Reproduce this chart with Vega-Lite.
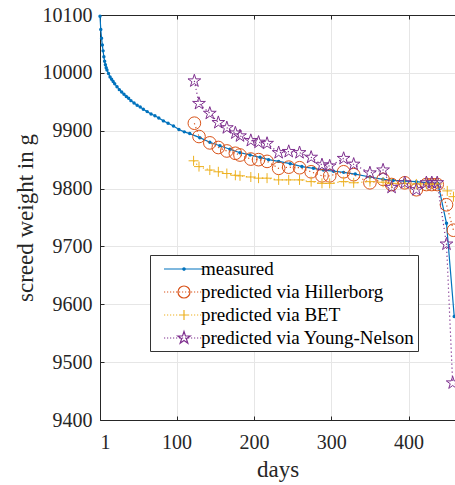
{
  "$schema": "https://vega.github.io/schema/vega-lite/v6.json",
  "width": 355,
  "height": 405,
  "autosize": {"type": "none"},
  "padding": {"left": 100, "top": 15, "right": 0, "bottom": 65},
  "background": "white",
  "config": {
    "font": "Liberation Serif",
    "view": {"stroke": null},
    "axis": {
      "labelFont": "Liberation Serif",
      "titleFont": "Liberation Serif",
      "labelFontSize": 20,
      "titleFontSize": 23,
      "titleFontWeight": "normal",
      "labelColor": "#262626",
      "titleColor": "#262626",
      "domainColor": "#262626",
      "tickColor": "#262626",
      "gridColor": "#e6e6e6",
      "domainWidth": 1,
      "tickWidth": 1,
      "tickSize": -4
    }
  },
  "datasets": {
    "weights": [
      {"series": "measured", "day": 1, "g": 10098},
      {"series": "measured", "day": 2, "g": 10075},
      {"series": "measured", "day": 3, "g": 10060},
      {"series": "measured", "day": 4, "g": 10048},
      {"series": "measured", "day": 5, "g": 10038},
      {"series": "measured", "day": 6, "g": 10028},
      {"series": "measured", "day": 7, "g": 10020},
      {"series": "measured", "day": 8, "g": 10014},
      {"series": "measured", "day": 9, "g": 10009},
      {"series": "measured", "day": 10, "g": 10005},
      {"series": "measured", "day": 12, "g": 9999},
      {"series": "measured", "day": 14, "g": 9993},
      {"series": "measured", "day": 16, "g": 9989},
      {"series": "measured", "day": 18, "g": 9985},
      {"series": "measured", "day": 20, "g": 9981},
      {"series": "measured", "day": 23, "g": 9976},
      {"series": "measured", "day": 26, "g": 9971},
      {"series": "measured", "day": 29, "g": 9967},
      {"series": "measured", "day": 32, "g": 9963},
      {"series": "measured", "day": 35, "g": 9959},
      {"series": "measured", "day": 38, "g": 9956},
      {"series": "measured", "day": 41, "g": 9952},
      {"series": "measured", "day": 45, "g": 9948},
      {"series": "measured", "day": 49, "g": 9944},
      {"series": "measured", "day": 53, "g": 9941},
      {"series": "measured", "day": 57, "g": 9937},
      {"series": "measured", "day": 62, "g": 9933},
      {"series": "measured", "day": 67, "g": 9929},
      {"series": "measured", "day": 72, "g": 9926},
      {"series": "measured", "day": 77, "g": 9922},
      {"series": "measured", "day": 83, "g": 9917},
      {"series": "measured", "day": 89, "g": 9913},
      {"series": "measured", "day": 96, "g": 9908},
      {"series": "measured", "day": 103, "g": 9902},
      {"series": "measured", "day": 110, "g": 9898},
      {"series": "measured", "day": 117, "g": 9895},
      {"series": "measured", "day": 130, "g": 9888},
      {"series": "measured", "day": 143, "g": 9880},
      {"series": "measured", "day": 156, "g": 9874},
      {"series": "measured", "day": 169, "g": 9868},
      {"series": "measured", "day": 182, "g": 9862},
      {"series": "measured", "day": 195, "g": 9858},
      {"series": "measured", "day": 208, "g": 9854},
      {"series": "measured", "day": 219, "g": 9850},
      {"series": "measured", "day": 232, "g": 9847},
      {"series": "measured", "day": 247, "g": 9843},
      {"series": "measured", "day": 262, "g": 9838},
      {"series": "measured", "day": 277, "g": 9835},
      {"series": "measured", "day": 290, "g": 9832},
      {"series": "measured", "day": 303, "g": 9830},
      {"series": "measured", "day": 316, "g": 9828},
      {"series": "measured", "day": 331, "g": 9825},
      {"series": "measured", "day": 350, "g": 9820},
      {"series": "measured", "day": 367, "g": 9816},
      {"series": "measured", "day": 380, "g": 9814},
      {"series": "measured", "day": 395, "g": 9813},
      {"series": "measured", "day": 410, "g": 9812},
      {"series": "measured", "day": 425, "g": 9810},
      {"series": "measured", "day": 438, "g": 9809},
      {"series": "measured", "day": 449, "g": 9740},
      {"series": "measured", "day": 459, "g": 9579},

      {"series": "predicted via Hillerborg", "day": 123, "g": 9913},
      {"series": "predicted via Hillerborg", "day": 129, "g": 9890},
      {"series": "predicted via Hillerborg", "day": 143, "g": 9879},
      {"series": "predicted via Hillerborg", "day": 154, "g": 9871},
      {"series": "predicted via Hillerborg", "day": 165, "g": 9865},
      {"series": "predicted via Hillerborg", "day": 176, "g": 9861},
      {"series": "predicted via Hillerborg", "day": 182, "g": 9858},
      {"series": "predicted via Hillerborg", "day": 196, "g": 9851},
      {"series": "predicted via Hillerborg", "day": 206, "g": 9850},
      {"series": "predicted via Hillerborg", "day": 217, "g": 9847},
      {"series": "predicted via Hillerborg", "day": 232, "g": 9835},
      {"series": "predicted via Hillerborg", "day": 245, "g": 9837},
      {"series": "predicted via Hillerborg", "day": 259, "g": 9836},
      {"series": "predicted via Hillerborg", "day": 274, "g": 9829},
      {"series": "predicted via Hillerborg", "day": 288, "g": 9822},
      {"series": "predicted via Hillerborg", "day": 298, "g": 9822},
      {"series": "predicted via Hillerborg", "day": 316, "g": 9829},
      {"series": "predicted via Hillerborg", "day": 329, "g": 9824},
      {"series": "predicted via Hillerborg", "day": 350, "g": 9810},
      {"series": "predicted via Hillerborg", "day": 367, "g": 9816},
      {"series": "predicted via Hillerborg", "day": 378, "g": 9807},
      {"series": "predicted via Hillerborg", "day": 395, "g": 9810},
      {"series": "predicted via Hillerborg", "day": 410, "g": 9798},
      {"series": "predicted via Hillerborg", "day": 423, "g": 9807},
      {"series": "predicted via Hillerborg", "day": 430, "g": 9807},
      {"series": "predicted via Hillerborg", "day": 437, "g": 9807},
      {"series": "predicted via Hillerborg", "day": 449, "g": 9772},
      {"series": "predicted via Hillerborg", "day": 458, "g": 9728},

      {"series": "predicted via BET", "day": 122, "g": 9848},
      {"series": "predicted via BET", "day": 129, "g": 9838},
      {"series": "predicted via BET", "day": 143, "g": 9832},
      {"series": "predicted via BET", "day": 154, "g": 9829},
      {"series": "predicted via BET", "day": 165, "g": 9826},
      {"series": "predicted via BET", "day": 176, "g": 9823},
      {"series": "predicted via BET", "day": 182, "g": 9822},
      {"series": "predicted via BET", "day": 196, "g": 9820},
      {"series": "predicted via BET", "day": 206, "g": 9818},
      {"series": "predicted via BET", "day": 217, "g": 9818},
      {"series": "predicted via BET", "day": 232, "g": 9815},
      {"series": "predicted via BET", "day": 245, "g": 9815},
      {"series": "predicted via BET", "day": 259, "g": 9815},
      {"series": "predicted via BET", "day": 274, "g": 9812},
      {"series": "predicted via BET", "day": 288, "g": 9809},
      {"series": "predicted via BET", "day": 298, "g": 9809},
      {"series": "predicted via BET", "day": 316, "g": 9812},
      {"series": "predicted via BET", "day": 329, "g": 9810},
      {"series": "predicted via BET", "day": 350, "g": 9812},
      {"series": "predicted via BET", "day": 367, "g": 9811},
      {"series": "predicted via BET", "day": 378, "g": 9809},
      {"series": "predicted via BET", "day": 395, "g": 9809},
      {"series": "predicted via BET", "day": 410, "g": 9808},
      {"series": "predicted via BET", "day": 423, "g": 9808},
      {"series": "predicted via BET", "day": 430, "g": 9808},
      {"series": "predicted via BET", "day": 437, "g": 9808},
      {"series": "predicted via BET", "day": 450, "g": 9796},
      {"series": "predicted via BET", "day": 458, "g": 9786},

      {"series": "predicted via Young-Nelson", "day": 123, "g": 9986},
      {"series": "predicted via Young-Nelson", "day": 129, "g": 9947},
      {"series": "predicted via Young-Nelson", "day": 143, "g": 9930},
      {"series": "predicted via Young-Nelson", "day": 154, "g": 9914},
      {"series": "predicted via Young-Nelson", "day": 165, "g": 9905},
      {"series": "predicted via Young-Nelson", "day": 176, "g": 9896},
      {"series": "predicted via Young-Nelson", "day": 182, "g": 9891},
      {"series": "predicted via Young-Nelson", "day": 196, "g": 9883},
      {"series": "predicted via Young-Nelson", "day": 206, "g": 9880},
      {"series": "predicted via Young-Nelson", "day": 217, "g": 9878},
      {"series": "predicted via Young-Nelson", "day": 232, "g": 9862},
      {"series": "predicted via Young-Nelson", "day": 245, "g": 9864},
      {"series": "predicted via Young-Nelson", "day": 259, "g": 9862},
      {"series": "predicted via Young-Nelson", "day": 274, "g": 9854},
      {"series": "predicted via Young-Nelson", "day": 288, "g": 9841},
      {"series": "predicted via Young-Nelson", "day": 298, "g": 9839},
      {"series": "predicted via Young-Nelson", "day": 316, "g": 9852},
      {"series": "predicted via Young-Nelson", "day": 329, "g": 9842},
      {"series": "predicted via Young-Nelson", "day": 350, "g": 9827},
      {"series": "predicted via Young-Nelson", "day": 367, "g": 9832},
      {"series": "predicted via Young-Nelson", "day": 378, "g": 9802},
      {"series": "predicted via Young-Nelson", "day": 395, "g": 9810},
      {"series": "predicted via Young-Nelson", "day": 410, "g": 9798},
      {"series": "predicted via Young-Nelson", "day": 423, "g": 9810},
      {"series": "predicted via Young-Nelson", "day": 430, "g": 9810},
      {"series": "predicted via Young-Nelson", "day": 437, "g": 9810},
      {"series": "predicted via Young-Nelson", "day": 449, "g": 9704},
      {"series": "predicted via Young-Nelson", "day": 457, "g": 9464}
    ]
  },
  "data": {"name": "weights"},
  "layer": [
    {
      "encoding": {
        "x": {
          "field": "day", "type": "quantitative",
          "scale": {"domain": [1, 460], "nice": false, "zero": false},
          "axis": {
            "orient": "bottom",
            "values": [1, 100, 200, 300, 400],
            "format": "d",
            "grid": true,
            "ticks": false,
            "labelFont": "Liberation Serif",
            "labelFontSize": 20,
            "labelBaseline": "top",
            "labelPadding": 12,
            "title": "days",
            "titleFont": "Liberation Serif",
            "titleFontSize": 23,
            "titlePadding": 6
          }
        },
        "y": {
          "field": "g", "type": "quantitative",
          "scale": {"domain": [9400, 10100], "nice": false, "zero": false},
          "axis": {
            "values": [9400, 9500, 9600, 9700, 9800, 9900, 10000, 10100],
            "format": "d",
            "grid": true,
            "labelFont": "Liberation Serif",
            "labelFontSize": 20,
            "labelPadding": 12,
            "title": "screed weight in g",
            "titleFont": "Liberation Serif",
            "titleFontSize": 23,
            "titlePadding": 5
          }
        }
      },
      "layer": [
        {
          "transform": [{"filter": "datum.series === 'measured'"}],
          "mark": {"type": "line", "color": "#0072BD", "strokeWidth": 1.2}
        },
        {
          "transform": [{"filter": "datum.series === 'measured'"}],
          "mark": {"type": "point", "shape": "circle", "filled": true, "color": "#0072BD", "size": 12, "opacity": 1}
        },
        {
          "transform": [{"filter": "datum.series === 'predicted via Hillerborg'"}],
          "mark": {"type": "line", "color": "#D95319", "strokeWidth": 1.2, "strokeDash": [1.2, 2.8]}
        },
        {
          "transform": [{"filter": "datum.series === 'predicted via Hillerborg'"}],
          "mark": {"type": "point", "shape": "circle", "filled": false, "color": "#D95319", "size": 160, "strokeWidth": 1, "opacity": 1}
        },
        {
          "transform": [{"filter": "datum.series === 'predicted via BET'"}],
          "mark": {"type": "line", "color": "#EDB120", "strokeWidth": 1.2, "strokeDash": [1.2, 2.8]}
        },
        {
          "transform": [{"filter": "datum.series === 'predicted via BET'"}],
          "mark": {"type": "point", "shape": "M-1,0H1M0,-1V1", "filled": false, "color": "#EDB120", "size": 100, "strokeWidth": 1, "opacity": 1}
        },
        {
          "transform": [{"filter": "datum.series === 'predicted via Young-Nelson'"}],
          "mark": {"type": "line", "color": "#7E2F8E", "strokeWidth": 1.2, "strokeDash": [1.2, 2.8]}
        },
        {
          "transform": [{"filter": "datum.series === 'predicted via Young-Nelson'"}],
          "mark": {"type": "point", "shape": "M0,-1L0.2245,-0.309L0.9511,-0.309L0.3633,0.118L0.5878,0.809L0,0.382L-0.5878,0.809L-0.3633,0.118L-0.9511,-0.309L-0.2245,-0.309Z", "filled": false, "color": "#7E2F8E", "size": 180, "strokeWidth": 1, "opacity": 1}
        }
      ]
    },
    {
      "mark": {"type": "point", "opacity": 0, "filled": false},
      "encoding": {
        "x": {
          "field": "day", "type": "quantitative",
          "axis": {
            "orient": "bottom",
            "values": [1, 100, 200, 300, 400],
            "labels": false,
            "domain": false,
            "grid": false,
            "title": null
          }
        },
        "y": {"field": "g", "type": "quantitative"}
      }
    },
    {
      "mark": {"type": "point", "opacity": 0, "filled": false},
      "encoding": {
        "x": {
          "field": "day", "type": "quantitative",
          "axis": {
            "orient": "top",
            "values": [1, 100, 200, 300, 400],
            "labels": false,
            "grid": false,
            "title": null
          }
        },
        "y": {"field": "g", "type": "quantitative"},
        "color": {
          "field": "series", "type": "nominal",
          "scale": {
            "domain": ["measured", "predicted via Hillerborg", "predicted via BET", "predicted via Young-Nelson"],
            "range": ["#0072BD", "#D95319", "#EDB120", "#7E2F8E"]
          },
          "legend": {
            "title": null,
            "orient": "none",
            "legendX": 50,
            "legendY": 240,
            "fillColor": "white",
            "strokeColor": "#333333",
            "padding": 3,
            "rowPadding": 2,
            "symbolSize": 400,
            "symbolStrokeWidth": 1.2,
            "symbolOffset": 20,
            "labelOffset": 6,
            "labelFont": "Liberation Serif",
            "labelFontSize": 19,
            "labelColor": "#000000",
            "labelLimit": 400,
            "encode": {"symbols": {"update": {"opacity": {"value": 1}}}}
          }
        },
        "shape": {
          "field": "series", "type": "nominal",
          "scale": {
            "domain": ["measured", "predicted via Hillerborg", "predicted via BET", "predicted via Young-Nelson"],
            "range": [
              "M-2,0H2M-0.12,0A0.12,0.12 0 1,1 0.12,0A0.12,0.12 0 1,1 -0.12,0Z",
              "M-2,0h0.12M-1.7,0h0.12M-1.4,0h0.12M-1.1,0h0.12M-0.8,0h0.12M-0.5,0h0.12M-0.2,0h0.12M0.1,0h0.12M0.4,0h0.12M0.7,0h0.12M1,0h0.12M1.3,0h0.12M1.6,0h0.12M1.9,0h0.12M-0.6,0A0.6,0.6 0 1,1 0.6,0A0.6,0.6 0 1,1 -0.6,0Z",
              "M-2,0h0.12M-1.7,0h0.12M-1.4,0h0.12M-1.1,0h0.12M-0.8,0h0.12M-0.5,0h0.12M-0.2,0h0.12M0.1,0h0.12M0.4,0h0.12M0.7,0h0.12M1,0h0.12M1.3,0h0.12M1.6,0h0.12M1.9,0h0.12M-0.5,0H0.5M0,-0.5V0.5",
              "M-2,0h0.12M-1.7,0h0.12M-1.4,0h0.12M-1.1,0h0.12M-0.8,0h0.12M-0.5,0h0.12M-0.2,0h0.12M0.1,0h0.12M0.4,0h0.12M0.7,0h0.12M1,0h0.12M1.3,0h0.12M1.6,0h0.12M1.9,0h0.12M0,-0.65L0.146,-0.2009L0.6182,-0.2009L0.2361,0.0767L0.3821,0.5259L0,0.2483L-0.3821,0.5259L-0.2361,0.0767L-0.6182,-0.2009L-0.146,-0.2009Z"
            ]
          },
          "legend": {
            "title": null,
            "orient": "none",
            "legendX": 50,
            "legendY": 240,
            "fillColor": "white",
            "strokeColor": "#333333",
            "padding": 3,
            "rowPadding": 2,
            "symbolSize": 400,
            "symbolStrokeWidth": 1.2,
            "symbolOffset": 20,
            "labelOffset": 6,
            "labelFont": "Liberation Serif",
            "labelFontSize": 19,
            "labelColor": "#000000",
            "labelLimit": 400,
            "encode": {"symbols": {"update": {"opacity": {"value": 1}}}}
          }
        }
      }
    }
  ],
  "resolve": {"axis": {"x": "independent"}}
}
